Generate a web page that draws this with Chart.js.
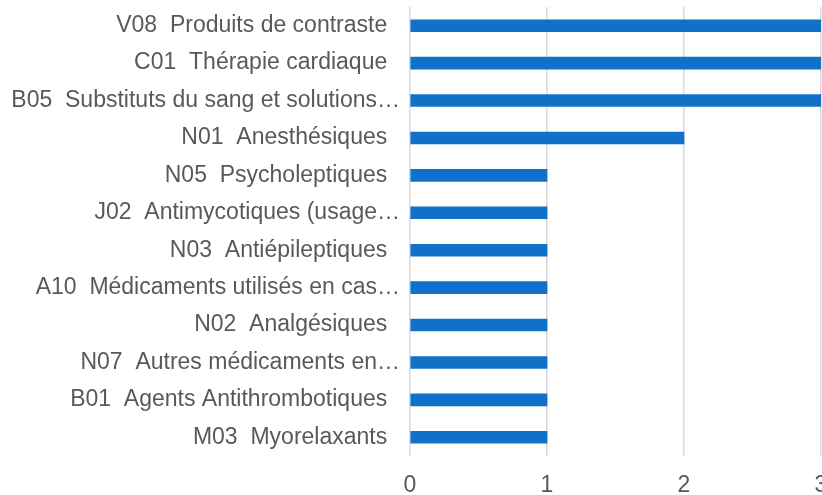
<!DOCTYPE html>
<html>
<head>
<meta charset="utf-8">
<script src="https://cdn.jsdelivr.net/npm/chart.js@4.4.1/dist/chart.umd.min.js"></script>
<style>
  html, body { margin: 0; padding: 0; background: #fff; overflow: hidden; }
  #wrap { position: relative; width: 822px; height: 495px; }
</style>
</head>
<body>
<div id="wrap"><canvas id="chart"></canvas></div>
<script>
const categories = [
  "V08  Produits de contraste",
  "C01  Thérapie cardiaque",
  "B05  Substituts du sang et solutions…",
  "N01  Anesthésiques",
  "N05  Psycholeptiques",
  "J02  Antimycotiques (usage…",
  "N03  Antiépileptiques",
  "A10  Médicaments utilisés en cas…",
  "N02  Analgésiques",
  "N07  Autres médicaments en…",
  "B01  Agents Antithrombotiques",
  "M03  Myorelaxants"
];
const counts = [3, 3, 3, 2, 1, 1, 1, 1, 1, 1, 1, 1];
const xTicks = [0, 1, 2, 3];

const labelFont = { family: "Liberation Sans", size: 23 };

// labels cut with an ellipsis run a little further right than whole ones
const padLabel = (s) => s.endsWith("…") ? s : s + "  ";

const ctx = document.getElementById("chart");
new Chart(ctx, {
  type: "bar",
  data: {
    labels: categories,
    datasets: [{
      data: counts,
      backgroundColor: "#1170c8",
      barThickness: 12
    }]
  },
  options: {
    indexAxis: "y",
    responsive: true,
    maintainAspectRatio: false,
    animation: false,
    layout: { padding: { top: 7, left: 0, right: 1, bottom: 0 } },
    plugins: { legend: { display: false }, tooltip: { enabled: false } },
    scales: {
      x: {
        min: 0,
        max: 3,
        afterBuildTicks: (scale) => { scale.ticks = xTicks.map(v => ({ value: v })); },
        afterFit: (scale) => {
          scale.height = 39;
          scale.paddingLeft = 0;
          scale.paddingRight = 0;
        },
        grid: { color: "#d9d9d9", lineWidth: 1.5, drawTicks: false },
        border: { display: false },
        ticks: {
          color: "#595959",
          font: labelFont,
          padding: 16,
          maxRotation: 0
        }
      },
      y: {
        grid: { display: false, drawTicks: false },
        border: { display: false },
        afterFit: (scale) => {
          scale.width = 410;
          scale.paddingTop = 0;
          scale.paddingBottom = 0;
        },
        ticks: {
          color: "#595959",
          font: labelFont,
          padding: 10,
          autoSkip: false,
          callback: function (value) { return padLabel(this.getLabelForValue(value)); }
        }
      }
    }
  }
});
</script>
</body>
</html>
